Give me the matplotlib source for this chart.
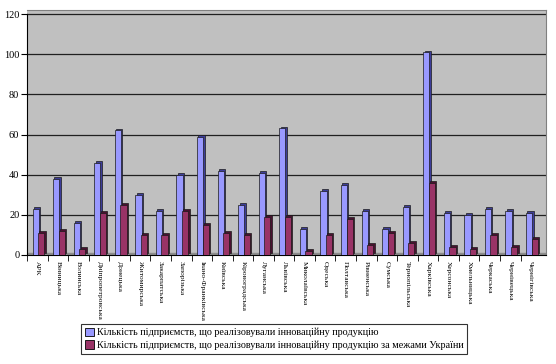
import numpy as np
import matplotlib
matplotlib.use("Agg")
import matplotlib.pyplot as plt
from matplotlib.patches import Patch

regions = [
    "АРК", "Вінницька", "Волинська", "Дніпропетровська", "Донецька",
    "Житомирська", "Закарпатська", "Запорізька", "Івано-Франківська",
    "Київська", "Кіровоградська", "Луганська", "Львівська", "Миколаївська",
    "Одеська", "Полтавська", "Рівненська", "Сумська", "Тернопільська",
    "Харківська", "Херсонська", "Хмельницька", "Черкаська", "Чернівецька",
    "Чернігівська",
]
innov_total = [23, 38, 16, 46, 62, 30, 22, 40, 59, 42, 25, 41, 63, 13, 32,
               35, 22, 13, 24, 101, 21, 20, 23, 22, 21]
innov_abroad = [11, 12, 3, 21, 25, 10, 10, 22, 15, 11, 10, 19, 19, 2, 10,
                18, 5, 11, 6, 36, 4, 3, 10, 4, 8]
legend_labels = [
    "Кількість підприємств, що реалізовували інноваційну продукцію",
    "Кількість підприємств, що реалізовували інноваційну продукцію за межами України",
]

plt.rcParams["font.family"] = ["Liberation Serif", "DejaVu Serif"]

fig = plt.figure(figsize=(5.56, 3.64), dpi=100)
ax = fig.add_axes([27 / 556, 1 - 255 / 364, 519 / 556, 245 / 364])
ax.set_facecolor("#c0c0c0")

x = np.arange(len(regions))
width = 0.3
dx, dy = 0.065, 0.8  # fake depth of the 3d bars

series = [
    (innov_total, -0.08, "#9999ff", "#3d3d99"),
    (innov_abroad, 0.19, "#993366", "#4a1030"),
]
for i, (vals, off, face, side) in enumerate(series):
    z = 3 + 2 * i
    ax.bar(x + off + dx, vals, width, bottom=dy, color=side,
           edgecolor="#1a1a1a", linewidth=0.5, zorder=z)
    ax.bar(x + off, vals, width, color=face,
           edgecolor="#1a1a1a", linewidth=0.5, zorder=z + 1)

# floor
ax.axhspan(0, 1.2, color="#8c8c8c", zorder=2)

ax.set_xlim(-0.5, 24.74)
ax.set_ylim(0, 122)
ax.set_yticks(range(0, 121, 20))
ax.yaxis.grid(True, color="#202020", linewidth=0.9, zorder=1)
ax.set_axisbelow(True)
ax.tick_params(axis="y", direction="out", length=4, width=0.8,
               labelsize=7.5, pad=1.5)

ax.set_xticks(x)
ax.set_xticklabels(regions, rotation=-90, fontsize=5.4, va="top", ha="center")
ax.set_xticks(np.arange(-0.5, 24.0, 1), minor=True)
ax.tick_params(axis="x", which="major", length=0, pad=4)
ax.tick_params(axis="x", which="minor", direction="out", length=4, width=0.6)

for name in ("top", "right"):
    ax.spines[name].set_color("#808080")
ax.spines["left"].set_bounds(0, 120)
ax.spines["left"].set_linewidth(0.8)
ax.spines["bottom"].set_linewidth(0.8)

handles = [Patch(facecolor=c, edgecolor="black", linewidth=0.6)
           for c in ("#9999ff", "#993366")]
leg = fig.legend(handles, legend_labels, loc="upper left",
                 bbox_to_anchor=(81 / 556, 1 - 324 / 364), borderaxespad=0,
                 fontsize=7.3, frameon=True, fancybox=False,
                 handlelength=0.9, handleheight=0.9, handletextpad=0.3,
                 labelspacing=0.3, borderpad=0.35)
leg.get_frame().set_edgecolor("black")
leg.get_frame().set_linewidth(0.8)

fig.savefig("out.png", dpi=100)
